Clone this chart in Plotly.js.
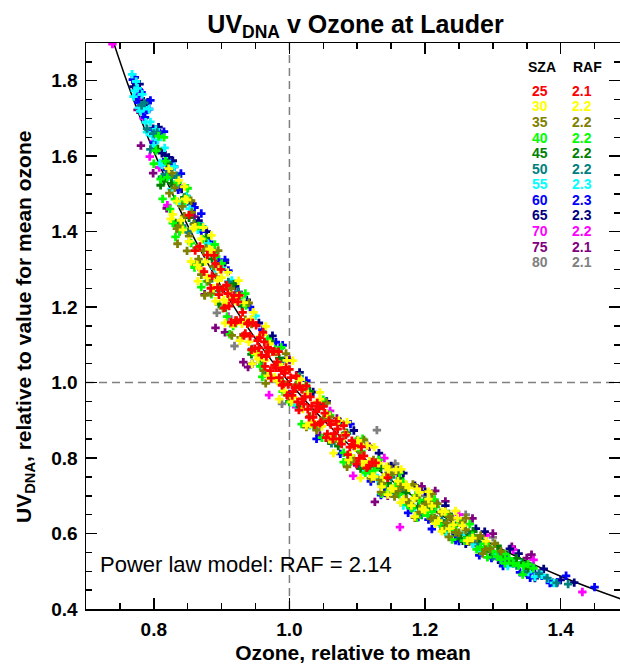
<!DOCTYPE html>
<html>
<head>
<meta charset="utf-8">
<script src="https://cdn.plot.ly/plotly-3.0.1.min.js"></script>
<style>html,body{margin:0;padding:0;background:#fff;}#chart{width:620px;height:664px;}</style>
</head>
<body>
<div id="chart"></div>
<script>
// ---- Legend / group data ----
const sza = [25, 30, 35, 40, 45, 50, 55, 60, 65, 70, 75, 80];
const raf = ['2.1', '2.2', '2.2', '2.2', '2.2', '2.2', '2.3', '2.3', '2.3', '2.2', '2.1', '2.1'];
const colors = ['#ff0000', '#ffff00', '#808000', '#00ff00', '#008000', '#008080', '#00ffff', '#0000ff', '#000080', '#ff00ff', '#800080', '#808080'];

// ---- Scatter values (ozone ratio x, UV ratio y) ----
const x25 = [0.852,0.861,0.868,0.874,0.879,0.886,0.891,0.896,0.902,0.907,0.911,0.916,0.920,0.924,0.928,0.931,0.935,0.938,0.942,0.946,0.949,0.953,0.956,0.959,0.963,0.966,0.969,0.972,0.975,0.978,0.982,0.985,0.988,0.991,0.995,0.998,1.002,1.005,1.008,1.012,1.015,1.019,1.023,1.027,1.031,1.035,1.039,1.043,1.047,1.052,1.056,1.061,1.066,1.071,1.077,1.083,1.089,1.096,1.103,1.110,1.118,1.127,1.145,
  0.884,0.889,0.894,0.899,0.904,0.909,0.914,0.918,0.922,0.926,0.933,0.940,0.944,0.951,0.955,0.961,0.964,0.968,0.973,0.977,0.980,0.984,0.989,0.993,0.997,1.000,1.004,1.010,1.014,1.018,1.021,1.025,1.029,1.033,1.037,1.041,1.045,1.050,1.054,1.058,1.064,1.069,1.074,1.080,1.086,1.092,1.099,1.106,1.114,1.122];
const y25 = [1.444,1.350,1.361,1.294,1.338,1.283,1.315,1.233,1.247,1.258,1.203,1.219,1.159,1.214,1.167,1.186,1.130,1.156,1.123,1.158,1.090,1.111,1.119,1.073,1.108,1.069,1.082,1.032,1.082,1.046,1.055,1.013,1.032,0.996,1.040,0.995,1.013,0.976,0.987,0.949,0.991,0.957,0.962,0.929,0.962,0.908,0.923,0.931,0.896,0.919,0.864,0.889,0.865,0.877,0.837,0.861,0.829,0.833,0.799,0.806,0.780,0.787,0.748,
  1.250,1.337,1.252,1.300,1.198,1.236,1.160,1.231,1.165,1.231,1.125,1.159,1.087,1.152,1.092,1.133,1.043,1.093,1.012,1.083,1.039,1.082,0.993,1.025,0.966,1.035,0.966,1.018,0.927,0.982,0.943,0.991,0.908,0.938,0.888,0.946,0.892,0.937,0.854,0.899,0.850,0.897,0.851,0.886,0.809,0.846,0.784,0.830,0.774,0.790];

const x30 = [0.822,0.828,0.834,0.840,0.846,0.852,0.858,0.864,0.870,0.876,0.882,0.888,0.894,0.900,0.906,0.912,0.918,0.924,0.930,0.936,0.943,0.950,0.957,0.964,0.971,0.978,0.985,0.992,0.999,1.006,1.013,1.020,1.027,1.034,1.041,1.048,1.055,1.062,1.069,1.076,1.083,1.090,1.097,1.104,1.111,1.118,1.125,1.132,1.139,1.146,1.153,1.160,1.168,1.176,1.184,1.192,1.200,1.210,1.220,1.230,1.242,1.255,1.270,1.290,
  0.825,0.837,0.843,0.849,0.855,0.861,0.867,0.873,0.879,0.885,0.891,0.897,0.903,0.909,0.915,0.921,0.927,0.933,0.940,0.947,0.954,0.961,0.968,0.975,0.982,0.996,1.003,1.017,1.031,1.045,1.059,1.073,1.087,1.101,1.108,1.115,1.122,1.129,1.136,1.143,1.150,1.157,1.164,1.172,1.180,1.188,1.196,1.205,1.215,1.225,1.236,1.248,1.262,
  0.845,0.865,0.885,0.905,0.925,0.945,0.965,0.985,1.005,1.025,1.045,1.065,1.085,1.105,1.125,1.145,1.165,1.185,1.205,1.225,1.245];
const y30 = [1.567,1.446,1.481,1.430,1.487,1.374,1.409,1.312,1.381,1.320,1.354,1.250,1.271,1.278,1.211,1.231,1.155,1.229,1.156,1.161,1.168,1.077,1.122,1.059,1.103,1.015,1.048,0.978,1.034,0.961,1.010,0.930,0.970,0.897,0.949,0.884,0.917,0.849,0.898,0.845,0.863,0.807,0.828,0.837,0.783,0.792,0.751,0.786,0.749,0.769,0.719,0.739,0.690,0.721,0.693,0.709,0.662,0.673,0.634,0.658,0.623,0.621,0.588,0.580,
  1.434,1.536,1.405,1.484,1.321,1.412,1.303,1.411,1.278,1.351,1.216,1.300,1.219,1.292,1.156,1.216,1.111,1.212,1.108,1.186,1.062,1.127,1.018,1.081,1.004,1.059,0.949,1.008,0.890,0.956,0.850,0.899,0.795,0.847,0.787,0.833,0.751,0.787,0.724,0.777,0.719,0.769,0.682,0.730,0.674,0.718,0.665,0.691,0.626,0.658,0.613,0.641,0.581,
  1.519,1.269,1.390,1.158,1.270,1.050,1.149,0.956,1.058,0.886,0.974,0.813,0.895,0.747,0.829,0.703,0.770,0.645,0.711,0.606,0.660];

const x35 = [0.823,0.831,0.838,0.845,0.852,0.859,0.866,0.873,0.880,0.888,0.897,0.908,0.920,0.935,0.952,0.970,0.990,1.010,1.030,1.050,1.068,1.082,1.095,1.106,1.115,1.124,1.133,1.142,1.151,1.160,1.169,1.178,1.187,1.196,1.205,1.214,1.223,1.232,1.241,1.250,1.260,1.270,1.282,1.296,1.312,
  0.827,0.834,0.842,0.849,0.856,0.863,0.870,0.877,0.884,0.892,0.902,0.914,0.928,0.944,0.962,0.980,1.000,1.020,1.040,1.060,1.076,1.090,1.100,1.110,1.120,1.128,1.137,1.146,1.155,1.164,1.173,1.182,1.191,1.200,1.209,1.218,1.227,1.236,1.245,1.255,1.265,1.276,1.289,1.303,
  0.835,0.855,0.875,0.895,0.915,0.940,0.965,0.995,1.025,1.055,1.085,1.110,1.135,1.160,1.185,1.210,1.235,1.260,1.285];
const y35 = [1.502,1.516,1.415,1.441,1.388,1.420,1.327,1.350,1.269,1.308,1.249,1.255,1.165,1.167,1.078,1.088,1.002,0.994,0.911,0.906,0.851,0.866,0.799,0.814,0.781,0.795,0.742,0.753,0.758,0.713,0.723,0.679,0.695,0.672,0.684,0.642,0.655,0.628,0.639,0.602,0.610,0.588,0.594,0.560,0.553,
  1.555,1.408,1.467,1.349,1.451,1.357,1.286,1.357,1.237,1.280,1.197,1.249,1.120,1.155,1.032,1.081,0.960,0.982,0.874,0.909,0.846,0.795,0.844,0.780,0.746,0.788,0.733,0.777,0.698,0.729,0.690,0.730,0.656,0.677,0.639,0.679,0.610,0.645,0.603,0.630,0.578,0.588,0.558,0.573,
  1.368,1.482,1.231,1.350,1.125,1.211,0.998,1.077,0.882,0.946,0.777,0.848,0.710,0.768,0.642,0.705,0.591,0.641,0.547];

const x40 = [0.803,0.810,0.817,0.824,0.831,0.838,0.846,0.855,0.866,0.878,0.892,0.908,0.926,0.946,0.968,0.990,1.012,1.036,1.060,1.080,1.098,1.112,1.126,1.138,1.150,1.162,1.174,1.186,1.198,1.210,1.222,1.234,1.246,1.258,1.270,1.282,1.294,1.306,1.318,1.330,1.345,1.360,
  0.800,0.807,0.813,0.820,0.828,0.835,0.842,0.850,0.860,0.872,0.885,0.900,0.917,0.936,0.957,0.979,1.001,1.024,1.048,1.070,1.090,1.106,1.120,1.132,1.144,1.156,1.168,1.180,1.192,1.204,1.216,1.228,1.240,1.252,1.264,1.276,1.288,1.300,1.312,1.324,1.338,1.352,
  0.815,0.832,0.850,0.870,0.890,0.912,0.935,0.960,0.988,1.018,1.050,1.080,1.108,1.136,1.162,1.188,1.214,1.240,1.266,1.292,1.318,1.344];
const y40 = [1.615,1.539,1.587,1.460,1.486,1.401,1.480,1.370,1.415,1.268,1.334,1.175,1.226,1.081,1.115,0.976,1.014,0.885,0.914,0.814,0.844,0.761,0.768,0.729,0.756,0.703,0.677,0.701,0.655,0.658,0.625,0.648,0.606,0.581,0.594,0.564,0.564,0.539,0.546,0.521,0.514,0.508,
  1.580,1.653,1.487,1.544,1.423,1.530,1.409,1.487,1.305,1.380,1.234,1.316,1.150,1.204,1.043,1.088,0.948,0.993,0.854,0.895,0.790,0.818,0.761,0.795,0.709,0.726,0.735,0.667,0.689,0.648,0.671,0.609,0.618,0.630,0.582,0.558,0.573,0.553,0.531,0.534,0.515,0.519,
  1.650,1.386,1.515,1.253,1.366,1.128,1.236,1.015,1.093,0.890,0.955,0.789,0.851,0.705,0.761,0.642,0.690,0.584,0.625,0.537,0.521,0.491];

const x45 = [0.806,0.815,0.826,0.838,0.852,0.868,0.886,0.906,0.930,0.958,0.985,1.015,1.045,1.072,1.095,1.115,1.135,1.155,1.172,1.190,1.208,1.226,1.244,1.262,1.280,1.298,1.316,1.335,1.352,
  0.810,0.820,0.832,0.845,0.860,0.877,0.896,0.918,0.944,0.972,1.000,1.030,1.058,1.084,1.105,1.125,1.145,1.163,1.181,1.199,1.217,1.235,1.253,1.271,1.289,1.307,1.326,1.344];
const y45 = [1.619,1.534,1.528,1.423,1.437,1.313,1.328,1.199,1.203,1.058,1.064,0.935,0.937,0.832,0.832,0.773,0.774,0.709,0.708,0.672,0.670,0.624,0.621,0.590,0.587,0.552,0.544,0.534,0.508,
  1.523,1.583,1.423,1.491,1.312,1.384,1.208,1.261,1.075,1.110,0.950,0.977,0.846,0.867,0.772,0.778,0.733,0.746,0.669,0.685,0.637,0.652,0.586,0.605,0.555,0.567,0.524,0.523];

const x50 = [0.782,0.790,0.800,0.812,0.826,0.842,0.860,0.882,0.910,0.945,0.990,1.040,1.085,1.120,1.150,1.180,1.210,1.240,1.265,1.290,1.312,1.335,1.358,1.380,1.394,1.411,
  0.786,0.795,0.805,0.818,0.834,0.851,0.870,0.895,0.925,0.965,1.015,1.062,1.100,1.135,1.165,1.195,1.225,1.252,1.278,1.300,1.323,1.346,1.368];
const y50 = [1.735,1.673,1.660,1.545,1.543,1.416,1.422,1.269,1.267,1.089,1.058,0.887,0.865,0.761,0.749,0.674,0.668,0.609,0.599,0.557,0.548,0.515,0.512,0.482,0.469,0.466,
  1.741,1.618,1.663,1.552,1.548,1.398,1.414,1.243,1.240,1.025,1.017,0.839,0.848,0.732,0.713,0.649,0.635,0.587,0.577,0.539,0.533,0.497,0.494];

const x55 = [0.768,0.772,0.776,0.780,0.785,0.790,0.795,0.800,0.806,0.812,0.819,0.826,0.834,0.843,0.853,0.865,0.880,0.900,0.930,0.970,1.010,1.060,1.110,1.150,1.185,1.215,1.245,1.270,1.292,1.312,1.332,1.352,1.372,1.390,
  0.770,0.774,0.778,0.783,0.788,0.793,0.798,0.803,0.809,0.816,0.823,0.830,0.838,0.848,0.859,0.872,0.890,0.915,0.950,1.030,1.085,1.130,1.168,1.200,1.230,1.258,1.282,1.302,1.322,1.342,1.362,1.381];
const y55 = [1.817,1.774,1.780,1.719,1.729,1.664,1.691,1.628,1.643,1.577,1.587,1.513,1.533,1.470,1.461,1.405,1.368,1.303,1.221,1.110,0.940,0.848,0.764,0.708,0.668,0.629,0.604,0.573,0.561,0.531,0.522,0.498,0.490,0.469,
  1.758,1.798,1.728,1.764,1.690,1.725,1.653,1.671,1.582,1.622,1.547,1.572,1.474,1.494,1.420,1.414,1.302,1.271,1.177,0.887,0.794,0.747,0.674,0.657,0.603,0.597,0.553,0.545,0.514,0.522,0.485,0.481];

const x60 = [0.769,0.774,0.779,0.784,0.790,0.797,0.805,0.814,0.824,0.836,0.850,0.870,0.895,0.925,0.960,1.000,1.050,1.100,1.140,1.175,1.205,1.235,1.262,1.288,1.310,1.330,1.350,1.372,1.395,1.408,1.450,
  0.772,0.777,0.782,0.787,0.793,0.800,0.809,0.819,0.830,0.843,0.860,0.882,0.910,0.942,0.980,1.025,1.075,1.120,1.158,1.190,1.220,1.250,1.275,1.298,1.320,1.340,1.362,1.384,
  0.795,0.815,0.840,0.870,0.905,0.945,0.990,1.040,1.090,1.135,1.175,1.210,1.245,1.280,1.315,1.355];
const y60 = [1.803,1.756,1.774,1.718,1.722,1.666,1.663,1.584,1.581,1.511,1.480,1.401,1.325,1.240,1.140,0.970,0.942,0.783,0.718,0.676,0.637,0.612,0.578,0.559,0.533,0.521,0.497,0.488,0.471,0.488,0.458,
  1.809,1.742,1.769,1.703,1.725,1.636,1.661,1.564,1.572,1.477,1.464,1.373,1.297,1.200,1.107,1.005,0.811,0.738,0.708,0.644,0.634,0.580,0.574,0.535,0.535,0.497,0.495,0.469,
  1.748,1.665,1.554,1.448,1.325,1.050,1.099,0.851,0.890,0.702,0.655,0.612,0.582,0.542,0.514,0.483];

const x65 = [0.770,0.776,0.782,0.788,0.795,0.803,0.812,0.822,0.834,0.848,0.866,0.890,0.920,0.955,0.995,1.035,1.075,1.115,1.150,1.185,1.215,1.245,1.275,1.300,1.325,1.350,1.375,1.400,1.420,
  0.773,0.779,0.785,0.791,0.799,0.807,0.817,0.828,0.841,0.857,0.878,0.905,0.937,0.975,1.015,1.055,1.095,1.132,1.168,1.200,1.230,1.260,1.288,1.312,1.338,1.362,1.388];
const y65 = [1.784,1.780,1.727,1.732,1.667,1.671,1.608,1.597,1.526,1.494,1.429,1.347,1.255,1.158,1.062,0.975,0.896,0.833,0.779,0.727,0.682,0.595,0.613,0.542,0.559,0.495,0.506,0.477,0.470,
  1.795,1.791,1.746,1.743,1.673,1.677,1.603,1.588,1.513,1.474,1.400,1.318,1.219,1.124,1.027,0.950,0.873,0.813,0.760,0.711,0.674,0.573,0.605,0.523,0.547,0.482,0.470];

const x70 = [0.739,0.770,0.778,0.785,0.794,0.800,0.808,0.820,0.838,0.870,0.910,0.970,1.010,1.060,1.094,1.100,1.140,1.163,1.170,1.250,1.290,1.300,1.330,1.360,1.432];
const y70 = [1.897,1.803,1.750,1.700,1.599,1.640,1.570,1.470,1.400,1.300,1.175,0.967,0.935,0.925,0.753,0.780,0.800,0.617,0.690,0.650,0.595,0.548,0.557,0.530,0.445];

const x75 = [0.776,0.781,0.799,0.819,0.860,0.875,0.891,0.905,0.932,0.939,1.000,1.045,1.070,1.118,1.126,1.130,1.145,1.160,1.195,1.215,1.230,1.270,1.300,1.328,1.350,1.357];
const y75 = [1.723,1.628,1.555,1.462,1.440,1.234,1.145,1.133,1.054,1.041,1.060,0.860,0.905,0.830,0.684,0.790,0.700,0.760,0.725,0.713,0.685,0.640,0.600,0.565,0.535,0.544];

const x80 = [0.850,0.893,0.919,0.960,0.989,1.040,1.080,1.129,1.156,1.200,1.260,1.300];
const y80 = [1.400,1.185,1.097,1.050,0.944,0.880,0.860,0.874,0.785,0.700,0.650,0.590];

// ---- Power-law model curve (RAF = 2.14) ----
const curveX = [0.74,0.76,0.78,0.80,0.85,0.90,0.95,1.00,1.05,1.10,1.15,1.20,1.25,1.30,1.35,1.40,1.45,1.49];
const curveY = [1.905,1.799,1.702,1.612,1.416,1.253,1.116,1.000,0.901,0.8155,0.7415,0.677,0.6204,0.5704,0.5262,0.4867,0.4515,0.426];
const modelLabel = 'Power law model: RAF = 2.14';

// ---- Build ----
const xs = [x25, x30, x35, x40, x45, x50, x55, x60, x65, x70, x75, x80];
const ys = [y25, y30, y35, y40, y45, y50, y55, y60, y65, y70, y75, y80];

const FONT = 'Liberation Sans, Arial, Helvetica, sans-serif';
const W = 620, H = 664, ML = 86, MR = 0, MT = 43, MB = 55;
const PW = W - ML - MR, PH = H - MT - MB;
const pxX = p => (p - ML) / PW;
const pxY = p => (H - MB - p) / PH;

const traces = [];
// model curve drawn first so the dense cloud hides it in the middle
traces.push({
  type: 'scatter', mode: 'lines', name: 'model',
  x: curveX, y: curveY,
  line: {color: '#000', width: 1.5, shape: 'spline'},
  hoverinfo: 'skip'
});
for (let i = sza.length - 1; i >= 0; i--) {
  traces.push({
    type: 'scatter', mode: 'markers', name: 'SZA ' + sza[i],
    x: xs[i], y: ys[i],
    marker: {symbol: 'cross', size: 7, color: colors[i], line: {width: 0}},
    hoverinfo: 'x+y+name'
  });
}

const annotations = [];
annotations.push({xref: 'paper', yref: 'paper', x: pxX(542), y: pxY(67.5), text: '<b>SZA</b>', showarrow: false,
  xanchor: 'center', yanchor: 'middle', font: {family: FONT, size: 14, color: '#000'}});
annotations.push({xref: 'paper', yref: 'paper', x: pxX(571), y: pxY(67.5), text: '<b>RAF</b>', showarrow: false,
  xanchor: 'left', yanchor: 'middle', font: {family: FONT, size: 14, color: '#000'}});
for (let i = 0; i < sza.length; i++) {
  const py = 90.7 + 15.6 * i;
  annotations.push({xref: 'paper', yref: 'paper', x: pxX(540), y: pxY(py), text: '<b>' + sza[i] + '</b>', showarrow: false,
    xanchor: 'center', yanchor: 'middle', font: {family: FONT, size: 14, color: colors[i]}});
  annotations.push({xref: 'paper', yref: 'paper', x: pxX(570), y: pxY(py), text: '<b>' + raf[i] + '</b>', showarrow: false,
    xanchor: 'left', yanchor: 'middle', font: {family: FONT, size: 14, color: colors[i]}});
}
annotations.push({xref: 'paper', yref: 'paper', x: pxX(98), y: pxY(564.5), text: modelLabel, showarrow: false,
  xanchor: 'left', yanchor: 'middle', font: {family: FONT, size: 22, color: '#000'}});
// y-axis title placed precisely as a rotated annotation
annotations.push({xref: 'paper', yref: 'paper', x: pxX(25), y: pxY(327), textangle: -90,
  text: '<b>UV<sub>DNA</sub>, relative to value for mean ozone</b>', showarrow: false,
  xanchor: 'center', yanchor: 'middle', font: {family: FONT, size: 21, color: '#000'}});

const axisCommon = {
  showline: true, linecolor: '#000', linewidth: 1.5, mirror: 'ticks',
  ticks: 'inside', ticklen: 11, tickwidth: 1.5, tickcolor: '#000',
  minor: {ticks: 'inside', ticklen: 6, tickwidth: 1.5, tickcolor: '#000', dtick: 0.05, showgrid: false},
  showgrid: false, zeroline: false, dtick: 0.2, tick0: 0, tickformat: '.1f',
  ticklabelstandoff: 3,
  tickfont: {family: FONT, size: 19, color: '#000', weight: 'bold'}
};

const layout = {
  width: W, height: H,
  margin: {l: ML, r: MR, t: MT, b: MB, pad: 0},
  paper_bgcolor: '#fff', plot_bgcolor: '#fff',
  showlegend: false,
  font: {family: FONT, color: '#000'},
  title: {text: '<b>UV<sub>DNA</sub> v Ozone at Lauder</b>', font: {family: FONT, size: 25, color: '#000'},
    x: pxX(355.5), xref: 'paper', xanchor: 'center', y: 1 - 24 / H, yref: 'container', yanchor: 'middle'},
  xaxis: Object.assign({}, axisCommon, {range: [0.7, 1.4875],
    title: {text: '<b>Ozone, relative to mean</b>', font: {family: FONT, size: 21, color: '#000'}, standoff: 8}}),
  yaxis: Object.assign({}, axisCommon, {range: [0.4, 1.9]}),
  shapes: [
    {type: 'line', xref: 'x', yref: 'paper', x0: 1.0, x1: 1.0, y0: 0, y1: 1, layer: 'below',
      line: {color: '#808080', width: 1.5, dash: '8px,5px'}},
    {type: 'line', xref: 'paper', yref: 'y', x0: 0, x1: 1, y0: 1.0, y1: 1.0, layer: 'below',
      line: {color: '#808080', width: 1.5, dash: '8px,5px'}}
  ],
  annotations: annotations
};

Plotly.newPlot('chart', traces, layout, {staticPlot: true, displayModeBar: false});
</script>
</body>
</html>
